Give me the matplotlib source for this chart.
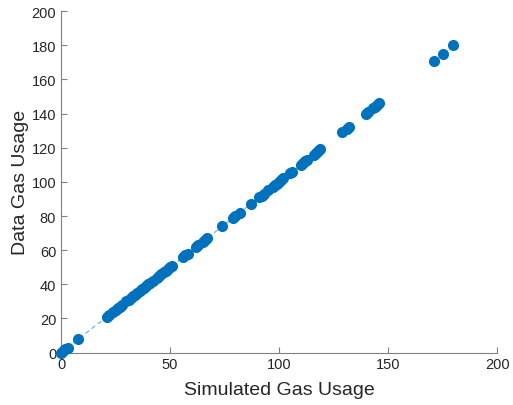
import matplotlib.pyplot as plt
import numpy as np

BLUE = '#0072BD'

sim_usage = [0, 1, 2, 3, 8, 21, 22, 24, 25, 26, 27, 28, 30, 31, 32, 33, 34, 35, 36, 37,
             38, 39, 40, 41, 42, 44, 45, 46, 47, 48, 49, 50, 51, 56, 57, 58, 62, 63, 65,
             66, 67, 74, 79, 80, 82, 87, 91, 92, 93, 95, 97, 98, 99, 100, 101, 102, 105,
             106, 110, 111, 112, 113, 116, 117, 118, 119, 129, 131, 132, 140, 141, 143,
             144, 145, 146, 171, 175, 180]
data_usage = [0, 1, 2, 3, 8, 21, 22, 24, 25, 26, 27, 28, 30, 31, 32, 33, 34, 35, 36, 37,
              38, 39, 40, 41, 42, 44, 45, 46, 47, 48, 49, 50, 51, 56, 57, 58, 62, 63, 65,
              66, 67, 74, 79, 80, 82, 87, 91, 92, 93, 95, 97, 98, 99, 100, 101, 102, 105,
              106, 110, 111, 112, 113, 116, 117, 118, 119, 129, 131, 132, 140, 141, 143,
              144, 145, 146, 171, 175, 180]
ref_line = [0, 110]

plt.rcParams['font.family'] = ['Liberation Sans', 'DejaVu Sans']

fig = plt.figure(figsize=(5.13, 4.06), dpi=100)
ax = fig.add_axes([0.119, 0.129, 0.850, 0.841])

ax.plot(ref_line, ref_line, '--', color=BLUE, lw=0.8, alpha=0.6, dashes=(4, 3))
ax.plot(sim_usage, data_usage, 'o', color=BLUE, ms=7, mec=BLUE, clip_on=False, zorder=5)

ax.set_xlim(0, 200)
ax.set_ylim(0, 200)
ax.set_xticks([0, 50, 100, 150, 200])
ax.set_yticks(np.arange(0, 201, 20))

for side in ['top', 'right']:
    ax.spines[side].set_visible(False)
for side in ['left', 'bottom']:
    ax.spines[side].set_color('#808080')
    ax.spines[side].set_linewidth(0.8)
ax.tick_params(direction='in', length=4, color='#808080', labelsize=10.5,
               labelcolor='#262626', width=0.8)

ax.set_xlabel('Simulated Gas Usage', fontsize=14, color='#262626', labelpad=7)
ax.set_ylabel('Data Gas Usage', fontsize=14, color='#262626', labelpad=2)

fig.savefig('out.png', dpi=100)
